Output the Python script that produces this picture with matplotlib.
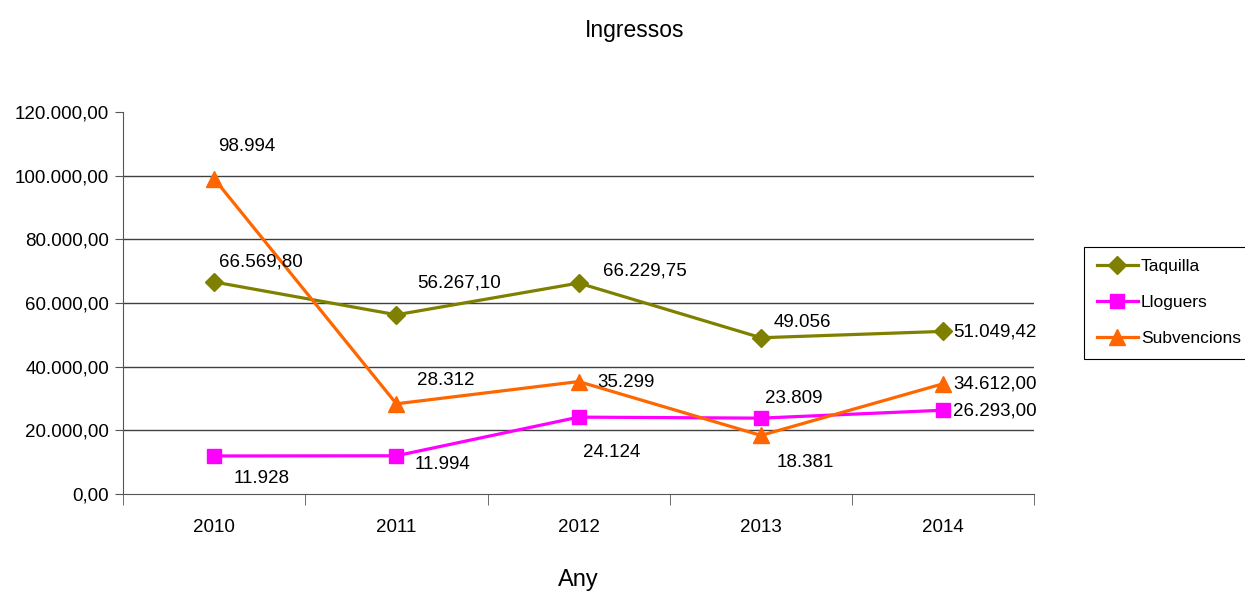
import matplotlib.pyplot as plt
from matplotlib.ticker import FixedLocator, FuncFormatter

plt.rcParams['font.family'] = ['Liberation Sans', 'DejaVu Sans']

anys = ['2010', '2011', '2012', '2013', '2014']
taquilla = [66569.80, 56267.10, 66229.75, 49056, 51049.42]
lloguers = [11928, 11994, 24124, 23809, 26293]
subvencions = [98994, 28312, 35299, 18381, 34612]

# etiquetes tal com surten al gràfic
et_taquilla = ['66.569,80', '56.267,10', '66.229,75', '49.056', '51.049,42']
et_lloguers = ['11.928', '11.994', '24.124', '23.809', '26.293,00']
et_subvencions = ['98.994', '28.312', '35.299', '18.381', '34.612,00']

fig = plt.figure(figsize=(12.45, 5.98), dpi=100)
ax = fig.add_axes([0.0988, 0.174, 0.732, 0.639])

x = list(range(len(anys)))
ax.plot(x, taquilla, color='#808000', lw=2.3, marker='D', ms=9, label='Taquilla')
ax.plot(x, lloguers, color='#FF00FF', lw=2.3, marker='s', ms=9.5, label='Lloguers')
ax.plot(x, subvencions, color='#FF6600', lw=2.3, marker='^', ms=11, label='Subvencions')

# desplaçaments de les etiquetes (en píxels)
off_t = [(47, 20), (63, 32), (66, 12), (41, 15), (52, -1)]
off_l = [(47, -23), (46, -9), (33, -35), (33, 20), (52, -1)]
off_s = [(33, 32), (49, 23), (47, -1), (44, -27), (52, 0)]
for etiq, vals, offs in [(et_taquilla, taquilla, off_t), (et_lloguers, lloguers, off_l),
                         (et_subvencions, subvencions, off_s)]:
    for i in range(len(vals)):
        ax.annotate(etiq[i], (i, vals[i]), xytext=offs[i], textcoords='offset pixels',
                    ha='center', va='center', fontsize=13.5)

ax.set_xlim(-0.5, 4.5)
ax.set_ylim(0, 120000)
ax.set_xticks(x)
ax.set_xticklabels(anys, fontsize=13.5)
ax.xaxis.set_minor_locator(FixedLocator([-0.5, 0.5, 1.5, 2.5, 3.5, 4.5]))
ax.tick_params(axis='x', which='major', length=0, pad=18)
ax.tick_params(axis='x', which='minor', length=8, direction='out', color='#555555')
ax.set_yticks(range(0, 120001, 20000))
ax.yaxis.set_major_formatter(FuncFormatter(
    lambda v, p: '{:,.2f}'.format(v).replace(',', 'X').replace('.', ',').replace('X', '.')))
ax.tick_params(axis='y', labelsize=13.5, length=6, pad=4, direction='out', color='#555555')
for v in range(20000, 100001, 20000):
    ax.axhline(v, color='#404040', lw=1, zorder=0)
for s in ['top', 'right']:
    ax.spines[s].set_visible(False)
ax.spines['left'].set_color('#555555')
ax.spines['bottom'].set_color('#555555')

ax.set_xlabel('Any', fontsize=17, labelpad=24)
fig.text(0.51, 0.949, 'Ingressos', ha='center', va='center', fontsize=16.5)

leg = ax.legend(loc='center left', bbox_to_anchor=(1.055, 0.5), fontsize=12.5,
                fancybox=False, edgecolor='black', handlelength=2.4, handletextpad=0.15,
                labelspacing=1.2, borderpad=0.7, borderaxespad=0, framealpha=1)
leg.get_frame().set_linewidth(0.8)

fig.savefig('out.png', dpi=100)
